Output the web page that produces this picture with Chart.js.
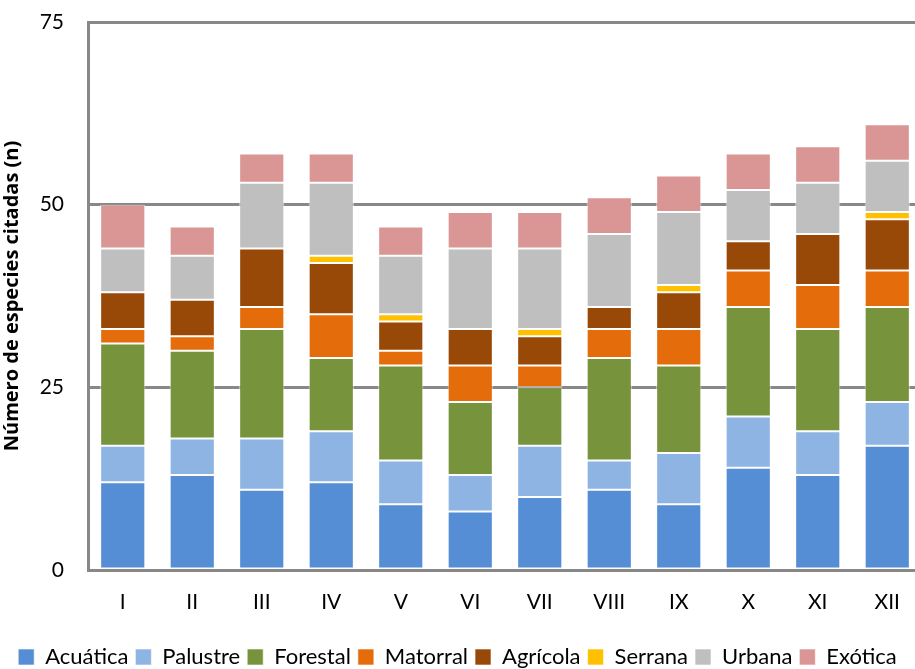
<!DOCTYPE html>
<html>
<head>
<meta charset="utf-8">
<style>
  html, body { margin: 0; padding: 0; background: #fff; }
  #wrap { width: 915px; height: 669px; }
</style>
</head>
<body>
<div id="wrap">
  <canvas id="myChart" width="915" height="669"></canvas>
</div>
<script src="https://cdn.jsdelivr.net/npm/chart.js"></script>
<script>
  const categories = ["I", "II", "III", "IV", "V", "VI", "VII", "VIII", "IX", "X", "XI", "XII"];

  const acuatica = [12, 13, 11, 12, 9, 8, 10, 11, 9, 14, 13, 17];
  const palustre = [5, 5, 7, 7, 6, 5, 7, 4, 7, 7, 6, 6];
  const forestal = [14, 12, 15, 10, 13, 10, 8, 14, 12, 15, 14, 13];
  const matorral = [2, 2, 3, 6, 2, 5, 3, 4, 5, 5, 6, 5];
  const agricola = [5, 5, 8, 7, 4, 5, 4, 3, 5, 4, 7, 7];
  const serrana = [0, 0, 0, 1, 1, 0, 1, 0, 1, 0, 0, 1];
  const urbana = [6, 6, 9, 10, 8, 11, 11, 10, 10, 7, 7, 7];
  const exotica = [6, 4, 4, 4, 4, 5, 5, 5, 5, 5, 5, 5];

  const yTicks = [0, 25, 50, 75];

  const font = "Lato";

  function ds(label, data, color) {
    return {
      label: label,
      data: data,
      backgroundColor: color,
      borderColor: "rgba(255,255,255,0.6)",
      borderWidth: 1,
      borderSkipped: false,
      categoryPercentage: 1,
      barPercentage: 0.65,
    };
  }

  // pin the plot area to where it sits in the original picture
  // (it runs a few pixels past the right edge)
  const plotBox = { left: 88, top: 22, right: 922, bottom: 570 };
  const pinArea = {
    id: "pinArea",
    afterLayout(chart) {
      const { x, y } = chart.scales;
      const a = chart.chartArea;
      a.left = plotBox.left;
      a.top = plotBox.top;
      a.right = plotBox.right;
      a.bottom = plotBox.bottom;
      a.width = a.right - a.left;
      a.height = a.bottom - a.top;

      y.top = a.top;
      y.bottom = a.bottom;
      y.height = a.height;
      y.configure();

      const xh = x.height;
      x.left = a.left;
      x.right = a.right;
      x.width = a.width;
      x.top = a.bottom;
      x.bottom = a.bottom + xh;
      x.configure();
    },
  };

  new Chart(document.getElementById("myChart"), {
    type: "bar",
    data: {
      labels: categories,
      datasets: [
        ds("Acuática", acuatica, "#558ED5"),
        ds("Palustre", palustre, "#8EB4E3"),
        ds("Forestal", forestal, "#77933C"),
        ds("Matorral", matorral, "#E46C0A"),
        ds("Agrícola", agricola, "#984807"),
        ds("Serrana", serrana, "#FFC000"),
        ds("Urbana", urbana, "#BFBFBF"),
        ds("Exótica", exotica, "#D99694"),
      ],
    },
    plugins: [pinArea],
    options: {
      responsive: false,
      animation: false,
      layout: {
        autoPadding: false,
        padding: { top: 7, right: 0, left: 0, bottom: -9 },
      },
      plugins: {
        tooltip: { enabled: false },
        legend: {
          position: "bottom",
          labels: {
            color: "#000",
            font: { family: font, size: 22 },
            boxWidth: 16,
            boxHeight: 16,
            padding: 7,
          },
        },
      },
      scales: {
        x: {
          stacked: true,
          grid: { display: false },
          border: { display: true, color: "#888", width: 3 },
          ticks: { color: "#000", font: { family: font, size: 21 }, padding: 12 },
          afterFit: (s) => { s.height = 69; },
        },
        y: {
          stacked: true,
          min: 0,
          max: 75,
          afterBuildTicks: (s) => { s.ticks = yTicks.map((v) => ({ value: v })); },
          grid: { color: "#888", lineWidth: 3, drawTicks: false },
          border: { display: true, color: "#888", width: 3 },
          ticks: { color: "#000", font: { family: font, size: 21 }, padding: 24 },
          title: {
            display: true,
            text: "Número de especies citadas (n)",
            color: "#000",
            font: { family: "Open Sans", size: 20, weight: "bold" },
            padding: 0,
          },
          afterFit: (s) => { s.width = 88; },
        },
      },
    },
  });
</script>
</body>
</html>
